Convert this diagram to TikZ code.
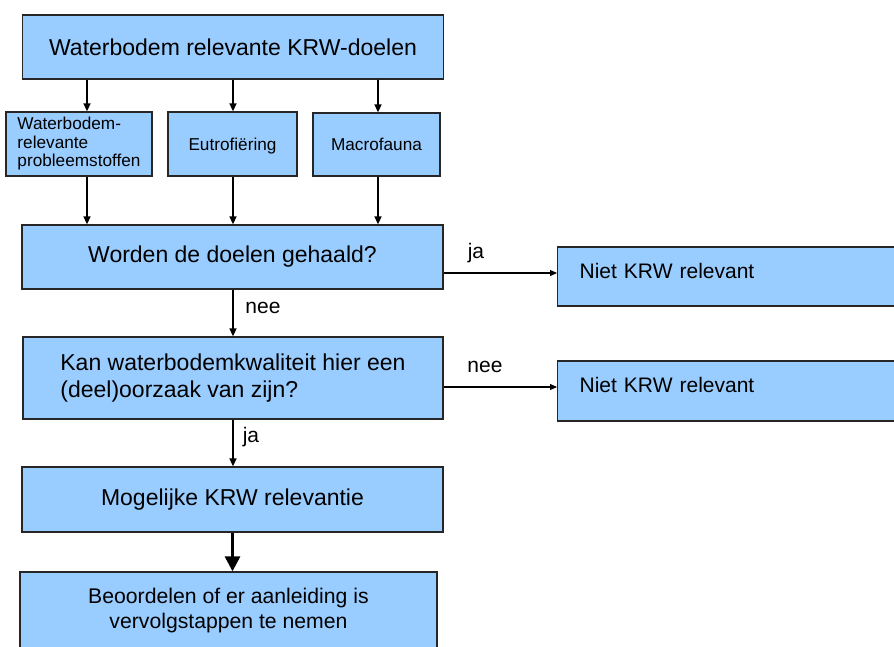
\documentclass[tikz,border=0pt]{standalone}
\usepackage{fontspec}
\setmainfont{Liberation Sans}
\usetikzlibrary{positioning,arrows.meta,calc}
\definecolor{vakblauw}{HTML}{99CCFF}

\begin{document}
\begin{tikzpicture}[x=1pt,y=-1pt,
    vak/.style={draw=black!85,line width=1.3pt,fill=vakblauw,rectangle,inner sep=0pt},
    groot/.style={font=\fontsize{23}{27}\selectfont},
    klein/.style={font=\fontsize{17.2}{18.5}\selectfont},
    lbl/.style={font=\fontsize{21}{25}\selectfont,inner sep=0pt},
    pijl/.style={line width=1.6pt,-{Triangle[length=8pt,width=7pt]}},
    dunpijl/.style={line width=1.1pt,-{Triangle[length=7pt,width=6pt]}},
    dikpijl/.style={line width=3pt,-{Triangle[length=15pt,width=15pt]}}]
    \useasboundingbox (0,0) rectangle (894,646);
        % kolommen voor de pijlen
        \coordinate (k1) at (87,0);
        \coordinate (k2) at (233,0);
        \coordinate (k3) at (378,0);
        \coordinate (r1) at (0,273);
        \coordinate (r2) at (0,387);
        \node[vak,groot,minimum width=421pt,minimum height=64pt] (doelen) at (233,47) {Waterbodem relevante KRW-doelen};
        \node[vak,klein,align=left,minimum width=146pt,minimum height=64pt] (stoffen) at (79,144) {Waterbodem-\\relevante\\probleemstoffen};
        \node[vak,klein,text height=12.3pt,text depth=0pt,minimum width=129pt,minimum height=64pt] (eutro) at (232.5,144) {Eutrofiëring};
        \node[vak,klein,text height=12.3pt,text depth=0pt,minimum width=127pt,minimum height=63pt] (macro) at (376.5,144.5) {Macrofauna};
        \node[vak,groot,minimum width=421pt,minimum height=64pt] (worden) at (232.5,257) {Worden de doelen gehaald?};
        \node[vak,font=\fontsize{23}{27}\selectfont,align=left,minimum width=420pt,minimum height=82pt] (kan) at (233,378) {Kan waterbodemkwaliteit hier een\\(deel)oorzaak van zijn?};
        \node[vak,groot,minimum width=421pt,minimum height=65pt] (mogelijk) at (232.5,499.5) {Mogelijke KRW relevantie};
        \node[vak,font=\fontsize{21.2}{25}\selectfont,align=center,minimum width=417pt,minimum height=78pt] (beoordelen) at (228.5,611) {Beoordelen of er aanleiding is\\vervolgstappen te nemen};
        \node[vak,font=\fontsize{21}{25}\selectfont,anchor=west,text width=304pt,inner xsep=22pt,text height=15pt,text depth=12pt,minimum height=59pt] (niet1) at (557,276.5) {Niet KRW relevant};
        \node[vak,font=\fontsize{21}{25}\selectfont,anchor=west,text width=304pt,inner xsep=22pt,text height=15pt,text depth=12pt,minimum height=60pt] (niet2) at (557,391) {Niet KRW relevant};
        \node[lbl] (nee1) at (263,308) {nee};
        \node[lbl] (ja1) at (251,437) {ja};
        \node[lbl] (ja2) at (476,253) {ja};
        \node[lbl] (nee2) at (485,367) {nee};
        \draw[pijl] (doelen.south -| k1) -- (stoffen.north -| k1);
        \draw[pijl] (doelen.south -| k2) -- (eutro.north -| k2);
        \draw[pijl] (doelen.south -| k3) -- (macro.north -| k3);
        \draw[pijl] (stoffen.south -| k1) -- (worden.north -| k1);
        \draw[pijl] (eutro.south -| k2) -- (worden.north -| k2);
        \draw[pijl] (macro.south -| k3) -- (worden.north -| k3);
        \draw[pijl] (worden.south -| k2) -- (kan.north -| k2);
        \draw[pijl] (kan.south -| k2) -- (mogelijk.north -| k2);
        \draw[dikpijl] (mogelijk.south) -- (mogelijk.south |- beoordelen.north);
        \draw[dunpijl] (worden.east |- r1) -- (niet1.west |- r1);
        \draw[dunpijl] (kan.east |- r2) -- (niet2.west |- r2);
    \end{tikzpicture}
\end{document}
